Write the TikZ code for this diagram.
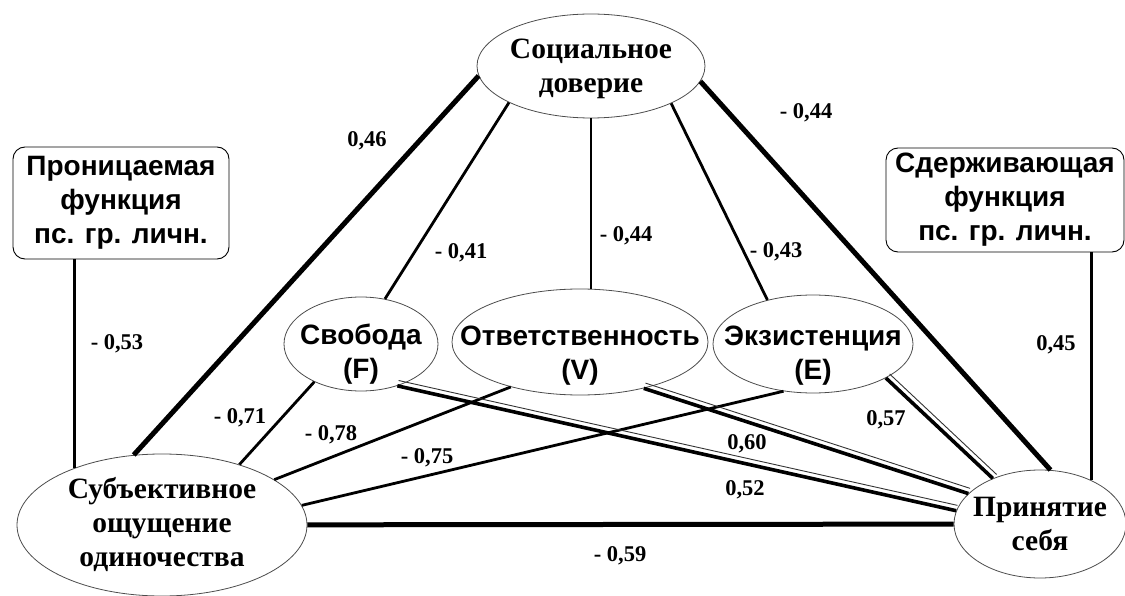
\documentclass[tikz,border=0pt]{standalone}
\usepackage{fontspec}
\setmainfont{Liberation Serif}
\newfontfamily\arialfont{Liberation Sans}
\usetikzlibrary{shapes.geometric,calc}

\tikzset{
  oval/.style={ellipse, draw=black!70, line width=0.8pt, inner sep=0pt},
  tnr/.style={font=\fontsize{29.5}{34}\selectfont\bfseries, align=center},
  ari/.style={font=\arialfont\bfseries\fontsize{28}{34}\selectfont, align=center},
  func/.style={draw, rounded corners=12pt, line width=0.9pt, ari, inner sep=0pt},
  coef/.style={font=\fontsize{22.5}{26}\selectfont\bfseries, anchor=base},
  link/.style={line width=2.8pt},
  strong/.style={line width=5pt},
  twin/.style={line width=3.6pt},
  twinthin/.style={line width=0.9pt, black!80}
}

\begin{document}
\begin{tikzpicture}[x=1pt,y=-1pt]
\useasboundingbox (0,0) rectangle (1125,596);
%\draw[step=50,gray,very thin] (0,0) grid (1125,596);

\node[oval, minimum width=228pt, minimum height=104pt, label={[tnr,yshift=-2.5pt]center:Социальное\\доверие}] (soc) at (591,66) {};
\node[oval, minimum width=154pt, minimum height=94pt, label={[ari,yshift=-10pt]center:Свобода\\(F)}] (free) at (361,344) {};
\node[oval, minimum width=256pt, minimum height=106pt, label={[ari,yshift=-14pt]center:Ответственность\\(V)}] (resp) at (580,342) {};
\node[oval, minimum width=200pt, minimum height=98pt, label={[ari,yshift=-12pt]center:Экзистенция\\(E)}] (exist) at (813,344) {};
\node[oval, minimum width=290pt, minimum height=142pt, label={[tnr]center:Субъективное\\ощущение\\одиночества}] (lonely) at (162,525) {};
\node[oval, minimum width=172pt, minimum height=108pt, label={[tnr]center:Принятие\\себя}] (accept) at (1040,524) {};

\node[func, minimum width=216pt, minimum height=112pt] (perm) at (121,203) {Проницаемая\\функция\\пс. гр. личн.};
\node[func, minimum width=238pt, minimum height=104pt] (restr) at (1005,200) {Сдерживающая\\функция\\пс. гр. личн.};

\draw[strong] (soc.185) -- (lonely.112);
\draw[strong] (soc.-8) -- (accept.79);
\draw[link] (soc.204) -- (free.62);
\draw[link] (soc.south) -- (resp.north -| soc.south);
\draw[link] (soc.-25) -- (exist.136);

\draw[link] (perm.south -| lonely.147) -- (lonely.147);
\draw[link] (restr.south -| accept.40) -- (accept.40);

\draw[link] (free.219) -- (lonely.38);
\draw[link] (resp.213) -- (lonely.22);
\draw[link] (exist.238) -- (lonely.8);
\draw[strong] (lonely) -- (accept);

\draw[twin] (free.-49) -- (accept.171);
\draw[twinthin] ($(free.-49)!5.5pt!90:(accept.171)$) -- ($(accept.171)!5.5pt!-90:(free.-49)$);
\draw[twin] (resp.-36) -- (accept.157);
\draw[twinthin] ($(resp.-36)!5.5pt!90:(accept.157)$) -- ($(accept.157)!5.5pt!-90:(resp.-36)$);
\draw[twin] (exist.-25) -- (accept.136);
\draw[twinthin] ($(exist.-25)!5.5pt!90:(accept.136)$) -- ($(accept.136)!5.5pt!-90:(exist.-25)$);

\node[coef] (k46) at (367,147) {0,46};
\node[coef] (k44a) at (806,119) {- 0,44};
\node[coef] (k41) at (461,259) {- 0,41};
\node[coef] (k44b) at (626,242) {- 0,44};
\node[coef] (k43) at (776,258) {- 0,43};
\node[coef] (k53) at (117,349) {- 0,53};
\node[coef] (k45) at (1056,350) {0,45};
\node[coef] (k71) at (240,423) {- 0,71};
\node[coef] (k78) at (331,440) {- 0,78};
\node[coef] (k75) at (427,463) {- 0,75};
\node[coef] (k60) at (747,449) {0,60};
\node[coef] (k52) at (745,495) {0,52};
\node[coef] (k57) at (886,425) {0,57};
\node[coef] (k59) at (620,561) {- 0,59};

\end{tikzpicture}
\end{document}
